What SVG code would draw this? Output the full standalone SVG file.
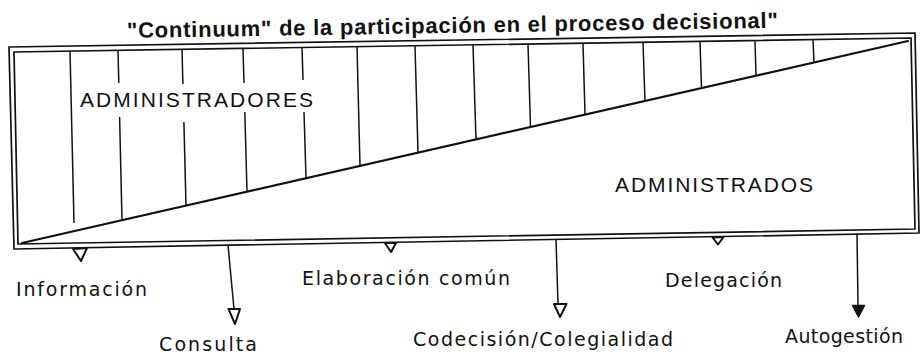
<svg xmlns="http://www.w3.org/2000/svg" width="924" height="356" viewBox="0 0 924 356">
<style>
.ln{stroke:#111;fill:none;stroke-linecap:round;stroke-linejoin:round}
.fr{stroke:#111;fill:none;stroke-width:1.7;stroke-linejoin:miter}
.hatch{stroke:#111;stroke-width:1.5;fill:none}
.lbl{font-family:"DejaVu Sans","Liberation Sans",Arial,sans-serif;font-size:19px;fill:#111}
.big{font-family:"Liberation Sans",Arial,sans-serif;font-size:21px;fill:#111}
.ttl{font-family:"Liberation Sans",Arial,sans-serif;font-size:22px;font-weight:bold;fill:#111}
.open{stroke:#111;stroke-width:2;fill:#fff;stroke-linejoin:round}
.fill{stroke:#111;stroke-width:1.5;fill:#111;stroke-linejoin:round}
</style>
<rect width="924" height="356" fill="#fff"/>

<g id="title">
<text class="ttl" x="127" y="38" textLength="651" lengthAdjust="spacing" transform="rotate(-0.9 127 38)">"Continuum" de la participación en el proceso decisional"</text>
</g>

<g id="frame">
<polygon class="fr" points="9,47 915,33 919,233 14,249"/>
<polygon class="fr" points="14,52 911,38 915,229 18,244"/>
<line class="ln" x1="22" y1="243" x2="908" y2="41" stroke-width="2.2"/>
<g class="hatch">
<path d="M70,51.1 L74,223"/>
<path d="M118,50.4 L118.8,83 M119.6,117 L122,220.4"/>
<path d="M182,49.4 L182.9,84 M183.9,122 L186,205.6"/>
<path d="M243,48.4 L244,83 M244.8,112 L247,191.7"/>
<path d="M302,47.5 L303,80 M304,112 L306,178.2"/>
<path d="M357,46.6 L360,165.9"/>
<path d="M415,45.7 L418,152.7"/>
<path d="M473,44.8 L476,139.7"/>
<path d="M528,44 L530.5,127.2"/>
<path d="M583,43.1 L585,114.6"/>
<path d="M643,42.2 L645,101.2"/>
<path d="M700,41.3 L701.5,88.2"/>
<path d="M755,40.4 L756,75.6"/>
<path d="M813,39.5 L814,62.4"/>
</g>
</g>

<g id="administradores">
<text class="big" x="80" y="107" textLength="233" lengthAdjust="spacing">ADMINISTRADORES</text>
</g>
<g id="administrados">
<text class="big" x="615" y="192" textLength="198" lengthAdjust="spacing">ADMINISTRADOS</text>
</g>

<g id="connectors">
<polygon class="open" points="73,249 87,248 81,261"/>
<line class="ln" x1="228" y1="245" x2="234" y2="309" stroke-width="1.5"/>
<polygon class="open" points="228.5,309 240,309 235,324"/>
<polygon class="open" points="385,243 396,243 391,252"/>
<line class="ln" x1="556" y1="239.5" x2="558" y2="304" stroke-width="1.5"/>
<polygon class="open" points="554,304 566.5,304 560,317"/>
<polygon class="open" points="712.5,237.5 723.5,237 718,244.5"/>
<line class="ln" x1="857" y1="234" x2="858" y2="306" stroke-width="1.5"/>
<polygon class="fill" points="852.5,305.5 864.5,305.5 858.5,317"/>
</g>

<g id="n-informacion"><text class="lbl" x="16" y="296" textLength="131" lengthAdjust="spacing">Información</text></g>
<g id="n-consulta"><text class="lbl" x="159" y="351" textLength="98" lengthAdjust="spacing">Consulta</text></g>
<g id="n-elaboracion"><text class="lbl" x="302" y="285" textLength="208" lengthAdjust="spacing">Elaboración común</text></g>
<g id="n-codecision"><text class="lbl" x="413" y="346" textLength="260" lengthAdjust="spacing">Codecisión/Colegialidad</text></g>
<g id="n-delegacion"><text class="lbl" x="665" y="287" textLength="117" lengthAdjust="spacing">Delegación</text></g>
<g id="n-autogestion"><text class="lbl" x="785" y="343" textLength="118" lengthAdjust="spacing">Autogestión</text></g>
</svg>
